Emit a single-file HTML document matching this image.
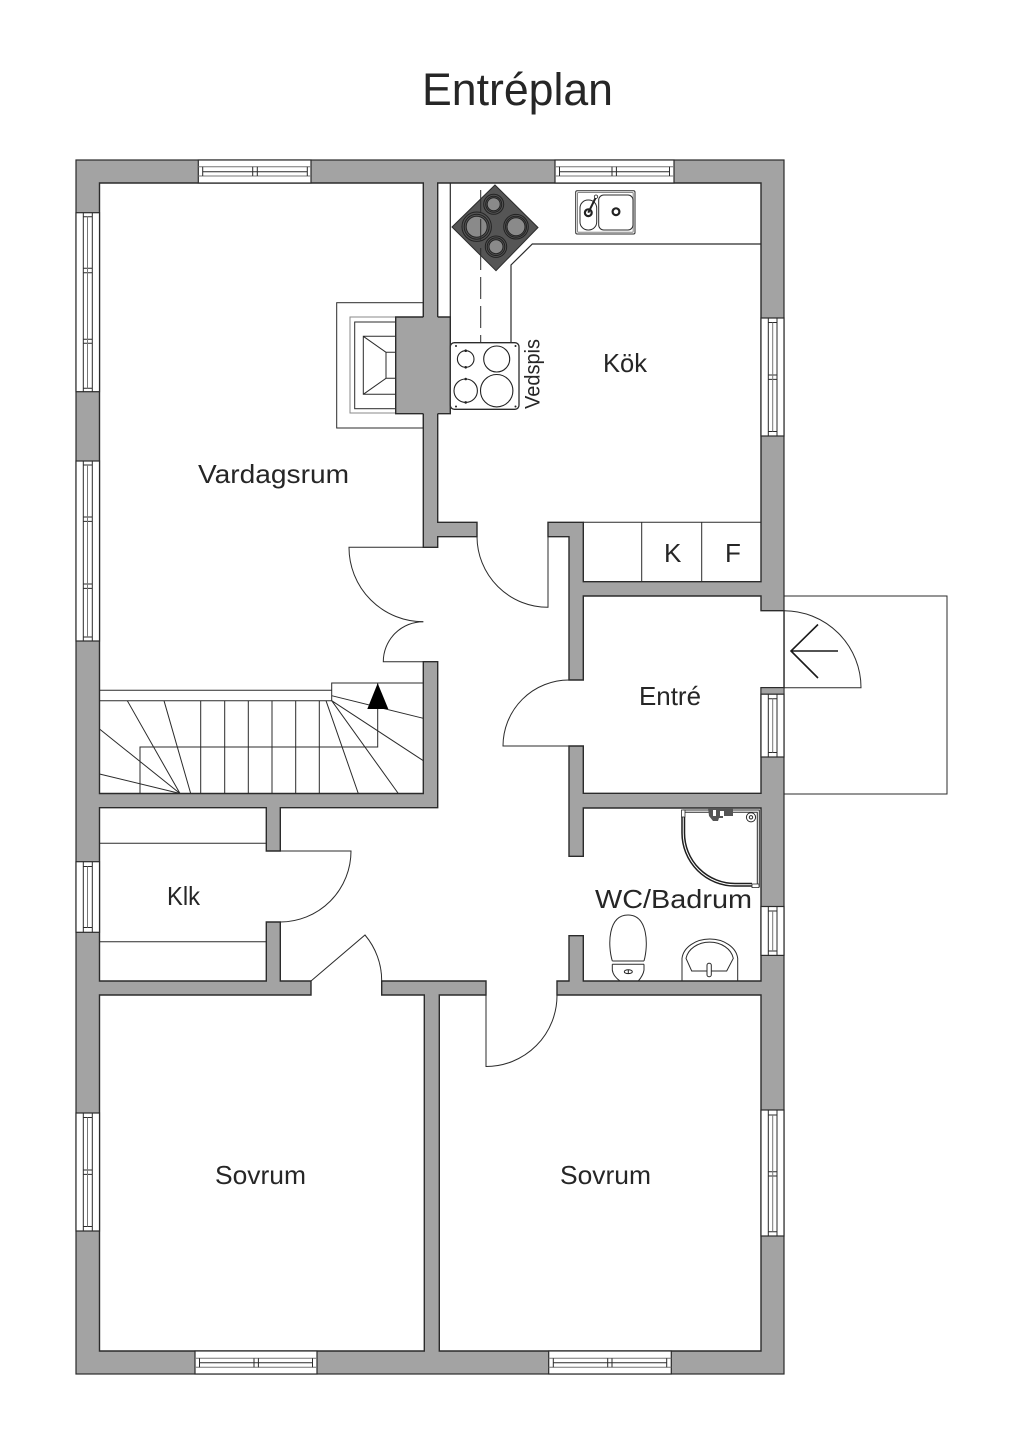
<!DOCTYPE html>
<html lang="sv">
<head>
<meta charset="utf-8">
<title>Entréplan</title>
<style>
html,body{margin:0;padding:0;background:#fff}
svg{display:block}
text{font-family:"Liberation Sans",sans-serif;fill:#262626}
.l{fill:none;stroke:#2b2b2b;stroke-width:1.2}
.t{fill:none;stroke:#2b2b2b;stroke-width:1}
.g{fill:none;stroke:#777;stroke-width:1}
.w{fill:#fff;stroke:#2b2b2b;stroke-width:1.2}
</style>
</head>
<body>
<svg width="1024" height="1448" viewBox="0 0 1024 1448" xmlns="http://www.w3.org/2000/svg">
<rect width="1024" height="1448" fill="#fff"/>

<!-- terrace -->
<rect x="784" y="596" width="163" height="198" class="t"/>

<!-- walls -->
<rect x="76" y="160" width="708" height="1214" fill="#a3a3a3" stroke="#2b2b2b" stroke-width="1.2"/>

<!-- interior -->
<path fill="#fff" stroke="#2b2b2b" stroke-width="1.4" stroke-linejoin="miter" d="M99.5,183 H423.3 V547.3 H437.7 V536.7 H477 V522.3 H437.7 V183 H761 V581.7 H583.3 V522.3 H548 V536.7 H569 V680 H583.3 V596 H761 V610.7 H784 V687.7 H761 V793.3 H583.3 V746 H569 V856.3 H583.3 V808 H761 V981 H583.3 V935.7 H569 V981 H557 V995 H761 V1351 H439.3 V995 H486 V981 H381.7 V995 H424.3 V1351 H99.5 V995 H311 V981 H280.3 V922 H266.3 V981 H99.5 V807.7 H266.3 V851 H280.3 V807.7 H437.7 V661.7 H423.3 V793.5 H99.5 Z"/>

<!-- small wall above the entrance window -->
<rect x="761" y="687.7" width="23" height="6.5" fill="#a3a3a3" stroke="#2b2b2b" stroke-width="1"/>

<!-- windows top -->
<rect x="198.3" y="160" width="112.7" height="23" class="w"/>
<path class="g" d="M198.3,166.7H311M198.3,176H311"/>
<path class="t" d="M202.7,171.7H307.3M202.7,166.7V176M307.3,166.7V176M252.7,166.7V176M257.3,166.7V176"/>
<rect x="555" y="160" width="119" height="23" class="w"/>
<path class="g" d="M555,166.7H674M555,176H674"/>
<path class="t" d="M559.5,171.7H669.5M559.5,166.7V176M669.5,166.7V176M612,166.7V176M616.4,166.7V176"/>

<!-- windows bottom -->
<rect x="195" y="1351" width="122" height="23" class="w"/>
<path class="g" d="M195,1358.3H317M195,1367.3H317"/>
<path class="t" d="M199.5,1362.7H312.5M199.5,1358.3V1367.3M312.5,1358.3V1367.3M254,1358.3V1367.3M258.4,1358.3V1367.3"/>
<rect x="548.7" y="1351" width="122.6" height="23" class="w"/>
<path class="g" d="M548.7,1358.3H671.3M548.7,1367.3H671.3"/>
<path class="t" d="M553.3,1362.7H666.7M553.3,1358.3V1367.3M666.7,1358.3V1367.3M607.7,1358.3V1367.3M612,1358.3V1367.3"/>

<!-- windows left -->
<rect x="76" y="212.7" width="23.5" height="179" class="w"/>
<path class="t" d="M83.3,212.7V391.7M92.3,212.7V391.7M83.3,216.7H92.3M83.3,388.3H92.3M83.3,268.3H92.3M83.3,272.7H92.3M83.3,339.3H92.3M83.3,343.3H92.3"/>
<path class="g" d="M87.5,216.7V388.3"/>
<rect x="76" y="461" width="23.5" height="180" class="w"/>
<path class="t" d="M83.3,461V641M92.3,461V641M83.3,465H92.3M83.3,637H92.3M83.3,517H92.3M83.3,521.4H92.3M83.3,584H92.3M83.3,588.4H92.3"/>
<path class="g" d="M87.5,465V637"/>
<rect x="76" y="861.7" width="23.5" height="70.6" class="w"/>
<path class="t" d="M83.3,861.7V932.3M92.3,861.7V932.3M83.3,866.5H92.3M83.3,927.5H92.3"/>
<path class="g" d="M87.5,866.5V927.5"/>
<rect x="76" y="1113" width="23.5" height="118" class="w"/>
<path class="t" d="M83.3,1113V1231M92.3,1113V1231M83.3,1117.5H92.3M83.3,1226.5H92.3M83.3,1170H92.3M83.3,1174.4H92.3"/>
<path class="g" d="M87.5,1117.5V1226.5"/>

<!-- windows right -->
<rect x="761" y="318" width="23" height="118" class="w"/>
<path class="t" d="M768.3,318V436M777,318V436M768.3,322.5H777M768.3,431.5H777M768.3,375H777M768.3,379.4H777"/>
<path class="g" d="M772.7,322.5V431.5"/>
<rect x="761" y="694.2" width="23" height="62.8" class="w"/>
<path class="t" d="M768.3,694.2V757M777,694.2V757M768.3,698.7H777M768.3,752.5H777"/>
<path class="g" d="M772.7,698.7V752.5"/>
<rect x="761" y="906.5" width="23" height="48.9" class="w"/>
<path class="t" d="M768.3,906.5V955.4M777,906.5V955.4M768.3,911H777M768.3,951H777"/>
<path class="g" d="M772.7,911V951"/>
<rect x="761" y="1110" width="23" height="126" class="w"/>
<path class="t" d="M768.3,1110V1236M777,1110V1236M768.3,1115H777M768.3,1231.7H777M768.3,1171.7H777M768.3,1176H777"/>
<path class="g" d="M772.7,1115V1231.7"/>

<!-- doors -->
<path class="t" d="M423.3,547.3H349 A74.3,74.3 0 0 0 423.3,621.7"/>
<path class="t" d="M423.3,621.7 A40,40 0 0 0 383.3,661.7 H423.3"/>
<path class="t" d="M477,536.7 A71,71 0 0 0 548,607.3 V536.7"/>
<path class="t" d="M569,680 A66,66 0 0 0 503,746 H569"/>
<path class="t" d="M784,610.7 A77,77 0 0 1 861,687.7 H784"/>
<path class="t" d="M280.3,851H351 A71,71 0 0 1 280.3,922"/>
<path class="t" d="M311,981 L365,935 A71,71 0 0 1 381.7,981"/>
<path class="t" d="M486,995 V1066.5 A71,71 0 0 0 557,995"/>

<!-- entry arrow -->
<path fill="none" stroke="#1a1a1a" stroke-width="1.6" d="M838,651H791M818,624.5L791,651L818,678"/>

<!-- closet -->
<path class="t" d="M583.3,522.3H761M641.7,522.3V581.7M701.7,522.3V581.7"/>

<!-- Klk shelves -->
<path class="t" d="M99.5,843.3H266.3M99.5,941.7H266.3"/>

<!-- stairs -->
<path class="t" d="M99.5,690.3H331.7M99.5,700.7H331.7V683H423.3"/>
<path class="t" d="M200.7,700.7V793.5M224.7,700.7V793.5M248.3,700.7V793.5M272,700.7V793.5M295.7,700.7V793.5M319.3,700.7V793.5"/>
<path class="t" d="M326,700.7L358.3,793.5M331.7,700.7L398.3,793.5M331.7,700.7L423.3,760.7M331.7,695.7L423.3,718.3"/>
<path class="t" d="M127.3,700.7L180,793.5M164,700.7L190.7,793.5M99.5,729L180,793.5M99.5,774L180,793.5"/>
<path class="t" d="M140,793.5V747H377.7V683"/>
<path fill="#000" d="M377.7,683.3L367.3,709H388.3Z"/>

<!-- fireplace -->
<rect x="336.7" y="302.7" width="86.6" height="125.3" class="t"/>
<rect x="350" y="317" width="46" height="96" fill="none" stroke="#8a8a8a" stroke-width="1"/>
<rect x="354.7" y="322" width="41.3" height="86.7" class="t"/>
<path class="t" d="M396,336.3H363.3V394.3H396M396,352.3H386V378.3H396M363.3,336.3L386,352.3M363.3,394.3L386,378.3"/>
<rect x="395.7" y="317" width="54.6" height="96.7" fill="#a3a3a3"/>
<path fill="none" stroke="#2b2b2b" stroke-width="1.4" d="M423.3,317H395.7V413.7H423.3M437.7,317H450.3V413.7H437.7"/>

<!-- kitchen counter -->
<path class="l" d="M450.3,183V317"/>
<path class="l" d="M511,342.7V265L532.3,244H761"/>

<!-- cooktop -->
<polygon points="495,185 538,227.5 496,270.7 452,227" fill="#555" stroke="#2b2b2b" stroke-width="1"/>
<g stroke="#222" stroke-width="1" fill="#555">
<circle cx="493.7" cy="204.3" r="10"/><circle cx="493.7" cy="204.3" r="8"/><circle cx="493.7" cy="204.3" r="6.5" fill="#8a8a8a"/>
<circle cx="476.7" cy="226.7" r="14.7"/><circle cx="476.7" cy="226.7" r="12.5"/><circle cx="476.7" cy="226.7" r="10.500" fill="#8a8a8a"/>
<circle cx="516" cy="226.7" r="12.3"/><circle cx="516" cy="226.7" r="10.5"/><circle cx="516" cy="226.7" r="9" fill="#8a8a8a"/>
<circle cx="496" cy="246.7" r="10.7"/><circle cx="496" cy="246.7" r="8.8"/><circle cx="496" cy="246.7" r="7" fill="#8a8a8a"/>
</g>
<path class="t" stroke-dasharray="22 7" d="M480.7,190V342.7"/>

<!-- sink -->
<rect x="575.7" y="190.7" width="59.3" height="43.3" rx="1.5" class="t"/>
<rect x="577.5" y="192.5" width="55.7" height="39.7" rx="1" fill="none" stroke="#888" stroke-width="1"/>
<rect x="580" y="200" width="16.7" height="30" rx="8" class="t"/>
<rect x="598.7" y="195" width="34.3" height="35" rx="5" class="t"/>
<circle cx="616" cy="211.7" r="3.4" fill="none" stroke="#222" stroke-width="2.200"/>
<circle cx="588.3" cy="212.7" r="3.4" fill="none" stroke="#222" stroke-width="2.200"/>
<path fill="none" stroke="#222" stroke-width="2" d="M588.3,212.7L596,197"/>
<circle cx="596" cy="196.7" r="1.7" fill="#fff" stroke="#222" stroke-width=".8"/>

<!-- wood stove -->
<rect x="450.3" y="342.7" width="68.7" height="66.6" rx="4" fill="#fff" stroke="#2b2b2b" stroke-width="1.3"/>
<g fill="none" stroke="#222" stroke-width="1.1">
<circle cx="465.7" cy="359" r="8.3"/><circle cx="496.7" cy="359" r="13"/>
<circle cx="465.7" cy="390.7" r="11.7"/><circle cx="496.7" cy="390.7" r="16.2"/>
</g>
<g fill="#222">
<circle cx="456" cy="346" r="1"/><circle cx="515.5" cy="346" r="1"/><circle cx="456" cy="406.5" r="1"/><circle cx="515.5" cy="406.5" r="1"/>
<circle cx="465.7" cy="350.7" r="1.300"/><circle cx="465.7" cy="367.3" r="1.300"/><circle cx="465.7" cy="379" r="1.300"/><circle cx="465.7" cy="402.4" r="1.300"/>
</g>

<!-- shower -->
<path class="t" d="M682.7,810H759.3V887M682.7,812.2H757.3V885.5"/>
<path fill="none" stroke="#1f1f1f" stroke-width="1.500" d="M682,817V833A53,53 0 0 0 735,886H752M684.5,817V833A50.5,50.5 0 0 0 735,883.5H752"/>
<rect x="681.5" y="810" width="3.5" height="7" fill="#fff" stroke="#2b2b2b" stroke-width=".8"/>
<rect x="752" y="884" width="7" height="3.6" fill="#fff" stroke="#2b2b2b" stroke-width=".8"/>
<circle cx="751" cy="817.3" r="4.6" fill="#fff" stroke="#2b2b2b" stroke-width="1"/>
<circle cx="751" cy="817.3" r="1.7" fill="none" stroke="#2b2b2b" stroke-width="1"/>
<path fill="#555" d="M708,808H733V816H723V818H719L718,821H713L709,816Z"/>
<path fill="#fff" d="M713,810H716V816H713ZM720,811H724V816H720Z"/>

<!-- toilet -->
<path class="t" d="M612.3,961C607.5,945 608,915 628,915C648,915 648.5,945 644,961"/>
<path class="t" d="M612.3,961H644M612.3,964.3H644M612.3,964.3V970C613,975 617,979 620,981M644,964.3V970C643.3,975 640,979 638.3,981"/>
<ellipse cx="628.3" cy="971.7" rx="4" ry="1.9" fill="#fff" stroke="#222" stroke-width="1"/>
<path stroke="#222" stroke-width="1" d="M628.3,970V973.5"/>

<!-- washbasin -->
<path class="t" d="M682,981V958.3A28,21.5 0 0 1 737.7,958.3V981"/>
<path class="t" d="M686,958.3A24,19.5 0 0 1 733.3,958.3L726.7,971H691.7Z"/>
<rect x="707" y="963.3" width="4.3" height="13.4" rx="2" fill="#fff" stroke="#2b2b2b" stroke-width="1"/>

<!-- labels -->
<text x="422" y="105" font-size="45" textLength="191" lengthAdjust="spacingAndGlyphs">Entréplan</text>
<text x="198" y="483" font-size="26" textLength="151" lengthAdjust="spacingAndGlyphs">Vardagsrum</text>
<text x="603" y="372" font-size="26" textLength="44" lengthAdjust="spacingAndGlyphs">Kök</text>
<text x="664" y="562" font-size="26">K</text>
<text x="725" y="562" font-size="26">F</text>
<text x="639" y="705" font-size="26" textLength="62" lengthAdjust="spacingAndGlyphs">Entré</text>
<text x="167" y="905" font-size="26" textLength="33" lengthAdjust="spacingAndGlyphs">Klk</text>
<text x="595" y="908" font-size="26" textLength="157" lengthAdjust="spacingAndGlyphs">WC/Badrum</text>
<text x="215" y="1184" font-size="26" textLength="91" lengthAdjust="spacingAndGlyphs">Sovrum</text>
<text x="560" y="1184" font-size="26" textLength="91" lengthAdjust="spacingAndGlyphs">Sovrum</text>
<text transform="translate(539.3,409) rotate(-90)" x="0" y="0" font-size="21" textLength="70" lengthAdjust="spacingAndGlyphs">Vedspis</text>
</svg>
</body>
</html>
